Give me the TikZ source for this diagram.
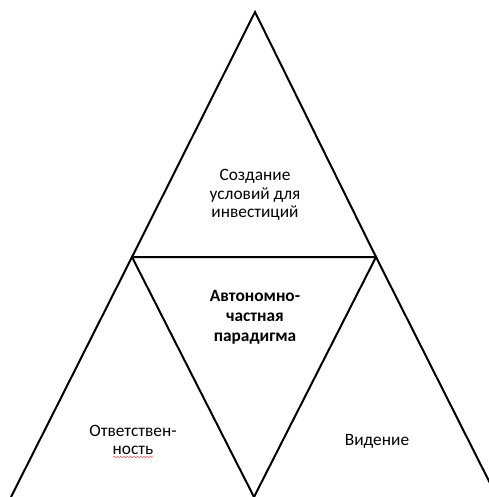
\documentclass[tikz,border=0pt]{standalone}
\usepackage{fontspec}
\setmainfont{Carlito}
\usetikzlibrary{decorations.pathmorphing}
\tikzset{
  edge/.style={draw=black, line width=1.5pt, line join=miter},
  lbl/.style={align=center, font=\fontsize{13}{14}\selectfont, inner sep=0pt},
  blbl/.style={lbl, font=\fontsize{13}{15}\selectfont\bfseries},
}
\begin{document}
\begin{tikzpicture}[x=0.75pt,y=-0.75pt]
\useasboundingbox (0,0) rectangle (489,497);
\coordinate (apex) at (255,12);
\coordinate (L) at (132,257);
\coordinate (R) at (376,257);
\coordinate (M) at (254,497);
\coordinate (BL) at (11,497);
\coordinate (BR) at (497,497);
\begin{scope}
\clip (0,0) rectangle (489,497);
\draw[edge] (L) -- (apex) -- (R) -- cycle;
\draw[edge] (BL) -- (L) -- (M) -- (R) -- (BR);
\end{scope}
\node[lbl] (top) at (255,195) {Создание\\условий для\\инвестиций};
\node[blbl] (mid) at (255,317) {Автономно-\\частная\\парадигма};
\node[lbl] (left) at (133,440) {Ответствен-\\ность};
\node[lbl] (right) at (377,441) {Видение};
\coordinate (u1) at (113,457);
\coordinate (u2) at (153,457);
\draw[red!70, line width=0.4pt, decorate, decoration={snake, amplitude=0.5pt, segment length=2.5pt}] (u1) -- (u2);
\end{tikzpicture}
\end{document}
